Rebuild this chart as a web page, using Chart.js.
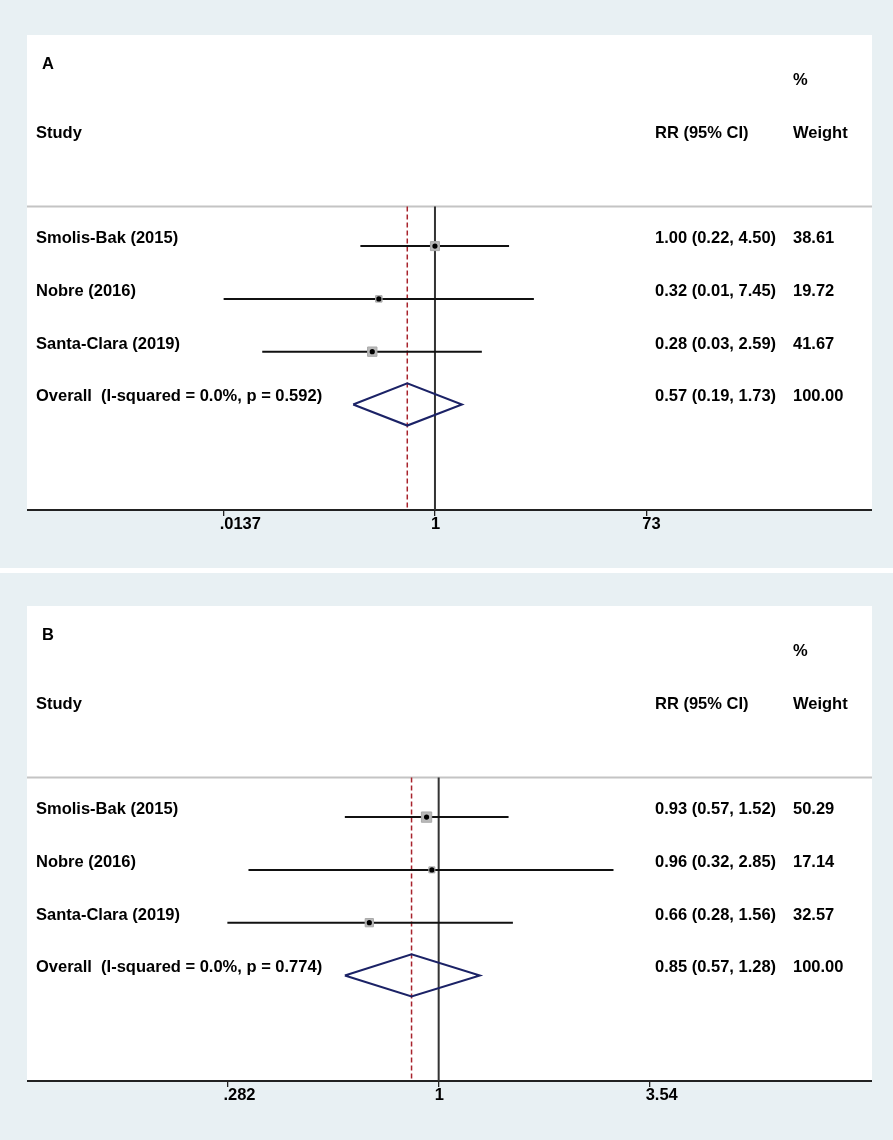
<!DOCTYPE html>
<html>
<head>
<meta charset="utf-8">
<title>Forest plots A / B</title>
<script src="https://cdn.jsdelivr.net/npm/chart.js@4.4.1/dist/chart.umd.min.js"></script>
<style>
    html, body { margin: 0; padding: 0; background: #ffffff; }
    #page { position: relative; width: 893px; height: 1140px; overflow: hidden; }
    .panel { position: absolute; left: 0; width: 893px; background: #e8f0f3; }
    .panel canvas { position: absolute; left: 27px; }
</style>
</head>
<body>
<div id="page">
    <div class="panel" style="top: 0; height: 568px;">
        <canvas id="forestA" width="845" height="533" style="top: 35px;"></canvas>
    </div>
    <div class="panel" style="top: 573px; height: 567px;">
        <canvas id="forestB" width="845" height="534" style="top: 33px;"></canvas>
    </div>
</div>
<script>
// Two forest plots (RR with 95% CI), log x axis, rows on a hidden linear y axis

const STUDY_NAMES = ["Smolis-Bak (2015)", "Nobre (2016)", "Santa-Clara (2019)"];

// panel A
const RR_A = [1.00, 0.32, 0.28];
const LOWER_A = [0.22, 0.0137, 0.03];
const UPPER_A = [4.50, 7.45, 2.59];
const WEIGHT_A = [38.61, 19.72, 41.67];
const OVERALL_A = [0.57, 0.19, 1.73];
const OVERALL_LABEL_A = "Overall  (I-squared = 0.0%, p = 0.592)";
const TICKS_A = [0.0137, 1, 73];
const TICK_LABELS_A = [".0137", "1", "73"];

// panel B
const RR_B = [0.93, 0.96, 0.66];
const LOWER_B = [0.57, 0.32, 0.282];
const UPPER_B = [1.52, 2.85, 1.56];
const WEIGHT_B = [50.29, 17.14, 32.57];
const OVERALL_B = [0.85, 0.57, 1.28];
const OVERALL_LABEL_B = "Overall  (I-squared = 0.0%, p = 0.774)";
const TICKS_B = [0.282, 1, 3.54];
const TICK_LABELS_B = [".282", "1", "3.54"];

const FONT_FAMILY = '"Liberation Sans", Arial, Helvetica, sans-serif';
const TEXT_FONT = `bold 16.5px ${FONT_FAMILY}`;
const WHITE_HEIGHT = 475;     // plot (white) area height, axis sits at its bottom
const ROW_TOP = -3;           // y value at the top of the white area
const ROW_BOTTOM = 6;         // y value at the axis
const SEPARATOR_ROW = 0.25;
const DIAMOND_HALF = 0.4;     // half height of the pooled diamond, in rows
const TEXT_LIFT = 7.5;        // text sits a bit above its line
const COL_STUDY = 9;
const COL_RR = 628;
const COL_WEIGHT = 766;

function fmt(v) {
    return v.toFixed(2);
}

function boxRadius(weight) {
    // square side grows with sqrt(weight); rect point side = radius * sqrt(2)
    return (1.45 * Math.sqrt(weight)) / Math.SQRT2;
}

function buildDatasets(rr, lower, upper, weight, overall) {
    const datasets = [];
    const rows = rr.map((_, i) => i + 1);
    const overallRow = rr.length + 1;

    datasets.push({
        label: "estimate",
        data: rr.map((v, i) => ({ x: v, y: rows[i] })),
        pointStyle: "circle",
        pointRadius: 2.6,
        backgroundColor: "#000000",
        borderColor: "#000000",
        borderWidth: 0,
        order: 0
    });

    datasets.push({
        label: "weight",
        data: rr.map((v, i) => ({ x: v, y: rows[i] })),
        pointStyle: "rect",
        pointRadius: weight.map(boxRadius),
        backgroundColor: "#b9b9b9",
        borderColor: "#a9a9a9",
        borderWidth: 1,
        order: 1
    });

    rr.forEach((_, i) => {
        datasets.push({
            label: "ci " + i,
            data: [{ x: lower[i], y: rows[i] }, { x: upper[i], y: rows[i] }],
            showLine: true,
            pointRadius: 0,
            borderColor: "#111111",
            borderWidth: 2,
            order: 2
        });
    });

    const [est, lo, hi] = overall;
    datasets.push({
        label: "overall",
        data: [
            { x: lo, y: overallRow },
            { x: est, y: overallRow - DIAMOND_HALF },
            { x: hi, y: overallRow },
            { x: est, y: overallRow + DIAMOND_HALF },
            { x: lo, y: overallRow }
        ],
        showLine: true,
        pointRadius: 0,
        borderColor: "#1b2266",
        borderWidth: 2,
        borderJoinStyle: "miter",
        fill: false,
        order: 3
    });

    datasets.push({
        label: "null line",
        data: [{ x: 1, y: SEPARATOR_ROW }, { x: 1, y: ROW_BOTTOM }],
        showLine: true,
        pointRadius: 0,
        borderColor: "#333333",
        borderWidth: 2,
        order: 4
    });

    datasets.push({
        label: "pooled line",
        data: [{ x: est, y: SEPARATOR_ROW }, { x: est, y: ROW_BOTTOM }],
        showLine: true,
        pointRadius: 0,
        borderColor: "#a8232c",
        borderWidth: 1.5,
        borderDash: [5, 3],
        order: 5
    });

    return datasets;
}

// white plot background, header separator and all the table text
function forestDecor(panel) {
    return {
        id: "forestDecor" + panel.letter,
        beforeDraw(chart) {
            const { ctx, chartArea } = chart;
            ctx.save();
            ctx.fillStyle = "#ffffff";
            ctx.fillRect(chartArea.left, chartArea.top, chartArea.right - chartArea.left, chartArea.bottom - chartArea.top);
            const ySep = chart.scales.y.getPixelForValue(SEPARATOR_ROW);
            ctx.strokeStyle = "#c4c4c4";
            ctx.lineWidth = 2;
            ctx.beginPath();
            ctx.moveTo(chartArea.left, ySep);
            ctx.lineTo(chartArea.right, ySep);
            ctx.stroke();
            ctx.restore();
        },
        afterDraw(chart) {
            const { ctx, chartArea } = chart;
            const yScale = chart.scales.y;
            const rowY = (row) => yScale.getPixelForValue(row) - TEXT_LIFT;

            ctx.save();
            ctx.fillStyle = "#000000";
            ctx.font = TEXT_FONT;
            ctx.textBaseline = "middle";
            ctx.textAlign = "left";

            ctx.fillText(panel.letter, 15, chartArea.top + 29);
            ctx.fillText("%", COL_WEIGHT, rowY(-2));
            ctx.fillText("Study", COL_STUDY, rowY(-1));
            ctx.fillText("RR (95% CI)", COL_RR, rowY(-1));
            ctx.fillText("Weight", COL_WEIGHT, rowY(-1));

            STUDY_NAMES.forEach((name, i) => {
                const y = rowY(i + 1);
                ctx.fillText(name, COL_STUDY, y);
                ctx.fillText(`${fmt(panel.rr[i])} (${fmt(panel.lower[i])}, ${fmt(panel.upper[i])})`, COL_RR, y);
                ctx.fillText(fmt(panel.weight[i]), COL_WEIGHT, y);
            });

            const yo = rowY(STUDY_NAMES.length + 1);
            const [est, lo, hi] = panel.overall;
            const totalWeight = panel.weight.reduce((s, w) => s + w, 0);
            ctx.fillText(panel.overallLabel, COL_STUDY, yo);
            ctx.fillText(`${fmt(est)} (${fmt(lo)}, ${fmt(hi)})`, COL_RR, yo);
            ctx.fillText(fmt(totalWeight), COL_WEIGHT, yo);
            ctx.restore();
        }
    };
}

function renderForest(panel) {
    const canvas = document.getElementById(panel.canvasId);
    const axisHeight = canvas.height - WHITE_HEIGHT;

    return new Chart(canvas, {
        type: "scatter",
        data: { datasets: buildDatasets(panel.rr, panel.lower, panel.upper, panel.weight, panel.overall) },
        options: {
            responsive: false,
            animation: false,
            layout: { padding: 0, autoPadding: false },
            plugins: {
                legend: { display: false },
                tooltip: { enabled: false }
            },
            scales: {
                x: {
                    type: "logarithmic",
                    position: "bottom",
                    min: panel.xMin,
                    max: panel.xMax,
                    afterBuildTicks: (axis) => {
                        axis.ticks = panel.ticks.map((v) => ({ value: v }));
                    },
                    afterFit: (axis) => {
                        axis.height = axisHeight;
                    },
                    border: { display: true, color: "#222222", width: 2 },
                    grid: {
                        display: true,
                        drawOnChartArea: false,
                        drawTicks: true,
                        tickLength: 6,
                        color: "#222222",
                        lineWidth: 1.3
                    },
                    ticks: {
                        autoSkip: false,
                        maxRotation: 0,
                        minRotation: 0,
                        align: "start",
                        labelOffset: -4,
                        padding: -1,
                        color: "#000000",
                        font: { family: FONT_FAMILY, size: 16.5, weight: "bold" },
                        callback: (value, index) => panel.tickLabels[index]
                    }
                },
                y: {
                    type: "linear",
                    display: false,
                    reverse: true,
                    min: ROW_TOP,
                    max: ROW_BOTTOM
                }
            }
        },
        plugins: [forestDecor(panel)]
    });
}

const panelA = {
    letter: "A", canvasId: "forestA",
    rr: RR_A, lower: LOWER_A, upper: UPPER_A, weight: WEIGHT_A, overall: OVERALL_A,
    overallLabel: OVERALL_LABEL_A, ticks: TICKS_A, tickLabels: TICK_LABELS_A,
    xMin: 2.53e-4, xMax: 7130
};

const panelB = {
    letter: "B", canvasId: "forestB",
    rr: RR_B, lower: LOWER_B, upper: UPPER_B, weight: WEIGHT_B, overall: OVERALL_B,
    overallLabel: OVERALL_LABEL_B, ticks: TICKS_B, tickLabels: TICK_LABELS_B,
    xMin: 0.0849, xMax: 13.41
};

renderForest(panelA);
renderForest(panelB);
</script>
</body>
</html>
